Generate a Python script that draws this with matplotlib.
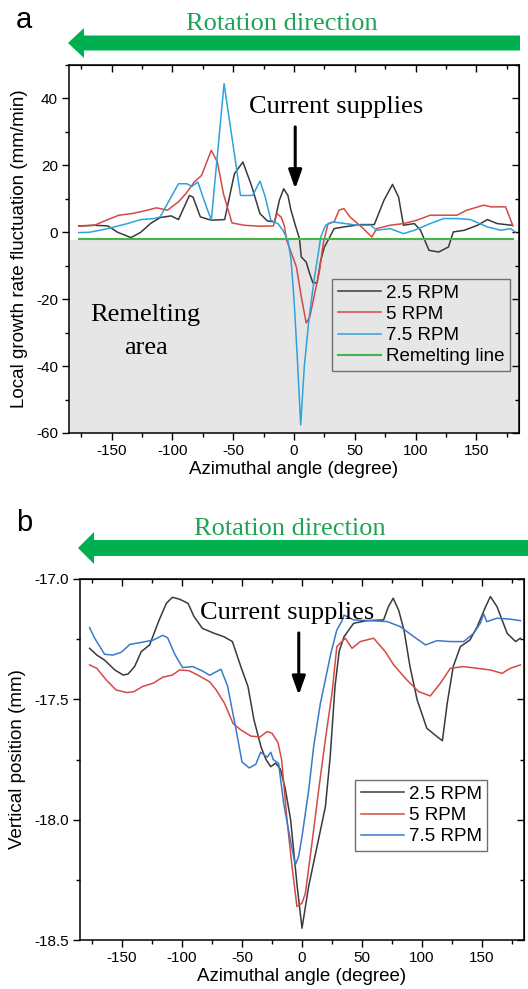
import numpy as np
import matplotlib
matplotlib.use("Agg")
import matplotlib.pyplot as plt
from matplotlib.patches import FancyArrow
from matplotlib.ticker import MultipleLocator, NullFormatter, FormatStrFormatter

plt.rcParams["font.family"] = ["Liberation Sans", "DejaVu Sans"]
plt.rcParams["axes.unicode_minus"] = False
SERIF = ["Liberation Serif", "DejaVu Serif"]

# ---- panel a: local growth rate fluctuation (mm/min) ----
ang_a_25 = [-177, -164, -153, -145, -134, -126, -118, -110, -101, -95,
            -86, -83, -77, -68, -57, -49, -42, -35, -28, -22,
            -16, -12, -8.5, -5, -2.5, 1.5, 4.5, 6, 10, 12.5,
            15.5, 19, 22, 25, 28, 33, 41, 55, 66, 74,
            81, 86, 90, 99, 104, 111, 119, 127, 131, 140,
            151, 159, 167, 179]
val_a_25 = [1.9, 2.1, 1.9, 0, -1.6, 0, 2.6, 4.4, 4.9, 3.8,
            11, 10.5, 4.6, 3.6, 3.8, 17.5, 21, 14, 5.6, 3.4,
            3.1, 9.6, 13, 11, 6.6, 1.6, -1.9, -7.4, -8.9, -11.9,
            -15.1, -15.1, -8.4, -4.4, -2.4, 1.1, 1.6, 2.3, 2.3, 9.6,
            14.3, 10.5, 2.1, 2.6, 0.6, -5.4, -5.9, -4.4, 0.1, 0.6,
            2.1, 3.8, 2.6, 2.1]

ang_a_5 = [-177, -164, -153, -144, -133, -123, -113, -104, -95, -89,
           -82, -76, -68, -63, -58, -51, -41, -28, -17, -14,
           -10.5, -8, -6, -1, 2, 6, 10, 13, 17, 21,
           24, 28, 33, 37, 41, 46, 57, 64, 68, 79,
           90, 101, 112, 123, 134, 142, 156, 162, 174, 180]
val_a_5 = [1.8, 2.1, 3.8, 5.1, 5.6, 6.4, 7.3, 6.6, 9.1, 11.5,
           15, 17, 24.5, 21, 11.5, 2.8, 2.1, 1.8, 1.9, 5.6,
           4.5, 2, -2.4, -7.4, -10.4, -19.3, -27.1, -25.3, -18.3, -11.4,
           -3.4, 2.6, 3.1, 6.6, 7.1, 4.6, 1.1, -1.4, 1.1, 2.1,
           2.6, 3.6, 5.1, 5.1, 5.1, 6.6, 8.1, 7.6, 7.6, 1.9]

ang_a_75 = [-177, -168, -153, -137, -126, -115, -110, -104, -95, -88,
            -84, -79, -74, -68, -57.5, -44, -34, -28, -24, -19,
            -13, -9, -5, -2.5, 0, 2.5, 5.5, 8.5, 12.5, 16.5,
            19.5, 22, 26, 32, 42, 52, 63, 68, 79, 90,
            99, 112, 123, 134, 145, 159, 170, 178, 182]
val_a_75 = [-0.1, 0, 1.1, 2.6, 3.8, 4.1, 4.6, 8.6, 14.5, 14.5,
            13.7, 15, 9.6, 3.6, 44.4, 11, 11, 15.3, 11, 3.6,
            2.5, 0.5, -2.5, -8, -20, -36, -57.6, -40, -25.3, -14.3,
            -7.4, -1.4, 2.1, 3.1, 2.6, 2.1, 2.1, 0.6, 1.1, -0.4,
            0.6, 2.6, 4.1, 4.1, 3.8, 1.6, 0.6, 1.1, 0.1]

remelt_ang = [-177, 180]
remelt_val = [-2, -2]

# ---- panel b: vertical position (mm) ----
ang_b_25 = [-177, -171, -164.5, -156, -149, -145, -139.5, -134, -127, -119,
            -113, -108, -102, -95, -90, -83, -73, -65, -58, -51,
            -45, -40, -34, -30, -26, -22, -18, -14, -9.5, -4,
            0, 5.5, 12.5, 19.5, 23.5, 27.5, 31, 35, 43, 54,
            68, 72, 76, 80.5, 85, 90, 96, 104, 112.5, 117,
            121, 126, 132, 140, 146, 153, 157, 162.5, 171, 178,
            182]
val_b_25 = [-17.288, -17.316, -17.337, -17.378, -17.399, -17.395, -17.364, -17.302, -17.274, -17.170,
            -17.101, -17.076, -17.084, -17.101, -17.156, -17.205, -17.226, -17.240, -17.260, -17.364,
            -17.447, -17.586, -17.70, -17.75, -17.78, -17.765, -17.79, -17.87, -18.0, -18.278,
            -18.451, -18.278, -18.112, -17.946, -17.738, -17.447, -17.30, -17.24, -17.184, -17.173,
            -17.170, -17.115, -17.080, -17.129, -17.212, -17.364, -17.503, -17.620, -17.655, -17.672,
            -17.517, -17.364, -17.281, -17.253, -17.198, -17.115, -17.073, -17.115, -17.226, -17.260,
            -17.246]

ang_b_5 = [-177, -171, -163, -155, -146, -140, -133, -124, -116, -108,
           -102, -94, -85.5, -77, -71.5, -64.5, -57.5, -51, -42.5, -35,
           -29, -25, -20, -17, -12.5, -8.3, -4.2, 0, 2.8, 8.3,
           13.9, 19.4, 25, 29, 36, 41.7, 48.6, 59.7, 69.4, 76.4,
           87.5, 97.2, 106.9, 115.3, 123.6, 134.7, 145.8, 156.9, 166.7, 173.6,
           182]
val_b_5 = [-17.357, -17.371, -17.420, -17.461, -17.472, -17.468, -17.447, -17.433, -17.408, -17.399,
           -17.378, -17.381, -17.403, -17.427, -17.461, -17.517, -17.600, -17.627, -17.653, -17.656,
           -17.634, -17.641, -17.68, -17.75, -18.001, -18.195, -18.361, -18.347, -18.306, -18.098,
           -17.877, -17.669, -17.475, -17.281, -17.246, -17.288, -17.260, -17.246, -17.302, -17.357,
           -17.420, -17.468, -17.486, -17.433, -17.371, -17.364, -17.371, -17.378, -17.392, -17.371,
           -17.357]

ang_b_75 = [-177, -173, -164.5, -157.5, -150.5, -143.5, -132.5, -124, -116, -112,
            -106, -99.5, -91, -83, -77, -67.5, -62, -55, -50, -44,
            -38.5, -34.5, -29, -26, -24, -19.5, -15.3, -9.7, -5.6, -2.8,
            0, 5.6, 9.7, 15.3, 19.4, 24, 29, 33, 35, 43,
            57, 71, 82, 93, 103, 112.5, 123.6, 134.7, 143, 148.6,
            151.4, 154, 162.5, 173.6, 182]
val_b_75 = [-17.202, -17.244, -17.313, -17.316, -17.304, -17.272, -17.262, -17.254, -17.234, -17.244,
            -17.313, -17.368, -17.364, -17.382, -17.400, -17.375, -17.445, -17.625, -17.760, -17.785,
            -17.770, -17.72, -17.74, -17.72, -17.75, -17.766, -17.932, -18.084, -18.188, -18.153,
            -18.070, -17.877, -17.697, -17.517, -17.420, -17.31, -17.212, -17.177, -17.150, -17.170,
            -17.173, -17.177, -17.198, -17.239, -17.274, -17.256, -17.260, -17.260, -17.226, -17.184,
            -17.145, -17.177, -17.163, -17.167, -17.173]

C25 = "#3a3a3a"
C5 = "#d44a45"
C75A = "#2ea2dc"
C75B = "#3b79c9"
CREM = "#45b649"
GREEN = "#00b050"
GREEN_TXT = "#1fa355"

W, H = 528, 989
fig = plt.figure(figsize=(W / 100, H / 100), dpi=100)

def px_rect(left, top, right, bottom):
    return [left / W, 1 - bottom / H, (right - left) / W, (bottom - top) / H]

def style(ax, xmaj, xmin, ymaj, ymin, yfmt=None):
    ax.xaxis.set_major_locator(MultipleLocator(xmaj))
    ax.xaxis.set_minor_locator(MultipleLocator(xmin))
    ax.yaxis.set_major_locator(MultipleLocator(ymaj))
    ax.yaxis.set_minor_locator(MultipleLocator(ymin))
    if yfmt:
        ax.yaxis.set_major_formatter(FormatStrFormatter(yfmt))
    ax.tick_params(which="both", direction="out", width=1, labelsize=11, pad=3)
    ax.tick_params(which="major", length=5)
    ax.tick_params(which="minor", length=3)
    for s in ax.spines.values():
        s.set_linewidth(1.1)
    # mirrored ticks pointing inward on top and right
    top = ax.secondary_xaxis("top")
    top.xaxis.set_major_locator(MultipleLocator(xmaj))
    top.xaxis.set_minor_locator(MultipleLocator(xmin))
    top.xaxis.set_major_formatter(NullFormatter())
    top.tick_params(which="both", direction="in", width=1)
    top.tick_params(which="major", length=5)
    top.tick_params(which="minor", length=3)
    right = ax.secondary_yaxis("right")
    right.yaxis.set_major_locator(MultipleLocator(ymaj))
    right.yaxis.set_minor_locator(MultipleLocator(ymin))
    right.yaxis.set_major_formatter(NullFormatter())
    right.tick_params(which="both", direction="in", width=1)
    right.tick_params(which="major", length=5)
    right.tick_params(which="minor", length=3)

# ---------------- panel a ----------------
ax1 = fig.add_axes(px_rect(69, 65, 519, 433))
ax1.axhspan(-60, -2.3, color="#e6e6e6", lw=0, zorder=0)
ax1.plot(ang_a_25, val_a_25, color=C25, lw=1.1, label="2.5 RPM")
ax1.plot(ang_a_5, val_a_5, color=C5, lw=1.1, label="5 RPM")
ax1.plot(ang_a_75, val_a_75, color=C75A, lw=1.1, label="7.5 RPM")
ax1.plot(remelt_ang, remelt_val, color=CREM, lw=1.5, label="Remelting line")
ax1.set_xlim(-185, 185)
ax1.set_ylim(-60, 50)
style(ax1, 50, 25, 20, 10)
ax1.set_xlabel("Azimuthal angle (degree)", fontsize=13.5, labelpad=2)
ax1.set_ylabel("Local growth rate fluctuation (mm/min)", fontsize=13.5, labelpad=6)

ax1.text(34.6, 35.6, "Current supplies", family=SERIF, fontsize=19,
         ha="center", va="baseline")
ax1.annotate("", xy=(1, 13), xytext=(1, 31.5),
             arrowprops=dict(arrowstyle="-|>,head_length=0.7,head_width=0.25",
                             color="black", lw=2.2, mutation_scale=16,
                             shrinkA=0, shrinkB=0))
ax1.text(-122, -26.5, "Remelting", family=SERIF, fontsize=19, ha="center", va="baseline")
ax1.text(-122, -36.4, "area", family=SERIF, fontsize=19, ha="center", va="baseline")

leg1 = ax1.legend(loc="upper right", bbox_to_anchor=(0.98, 0.4185), fontsize=13.5,
                  frameon=True, fancybox=False, framealpha=1, facecolor="none",
                  edgecolor="#707070", borderaxespad=0, handlelength=2.3,
                  handletextpad=0.25, labelspacing=0.22, borderpad=0.3)
leg1.get_frame().set_linewidth(1)

# ---------------- panel b ----------------
ax2 = fig.add_axes(px_rect(80, 579, 524, 940))
ax2.plot(ang_b_25, val_b_25, color=C25, lw=1.1, label="2.5 RPM")
ax2.plot(ang_b_5, val_b_5, color=C5, lw=1.1, label="5 RPM")
ax2.plot(ang_b_75, val_b_75, color=C75B, lw=1.1, label="7.5 RPM")
ax2.set_xlim(-185, 185)
ax2.set_ylim(-18.5, -17.0)
style(ax2, 50, 25, 0.5, 0.25, yfmt="%.1f")
ax2.set_xlabel("Azimuthal angle (degree)", fontsize=13.5, labelpad=2)
ax2.set_ylabel("Vertical position (mm)", fontsize=13.5, labelpad=6)

ax2.text(-12.8, -17.167, "Current supplies", family=SERIF, fontsize=19,
         ha="center", va="baseline")
ax2.annotate("", xy=(-2.7, -17.482), xytext=(-2.7, -17.224),
             arrowprops=dict(arrowstyle="-|>,head_length=0.7,head_width=0.25",
                             color="black", lw=2.2, mutation_scale=16,
                             shrinkA=0, shrinkB=0))

leg2 = ax2.legend(loc="upper right", bbox_to_anchor=(0.917, 0.443), fontsize=13.5,
                  frameon=True, fancybox=False, framealpha=1, facecolor="white",
                  edgecolor="#707070", borderaxespad=0, handlelength=2.3,
                  handletextpad=0.25, labelspacing=0.22, borderpad=0.3)
leg2.get_frame().set_linewidth(1)

# ---------------- rotation arrows, panel letters ----------------
def rotation_arrow(tip_x, tail_x, y, shaft, head_w, head_l):
    fig.add_artist(FancyArrow(tail_x / W, 1 - y / H, (tip_x - tail_x) / W, 0,
                              width=shaft / H, head_width=head_w / H,
                              head_length=head_l / W, length_includes_head=True,
                              transform=fig.transFigure, color=GREEN, lw=0))

rotation_arrow(68, 520, 43, 15, 30, 16)
fig.text(282 / W, 1 - 30 / H, "Rotation direction", family=SERIF, fontsize=19,
         color=GREEN_TXT, ha="center", va="baseline")
fig.text(24 / W, 1 - 28 / H, "a", fontsize=21, ha="center", va="baseline")

rotation_arrow(78, 528, 548, 16, 32, 16)
fig.text(290 / W, 1 - 535 / H, "Rotation direction", family=SERIF, fontsize=19,
         color=GREEN_TXT, ha="center", va="baseline")
fig.text(24 / W, 1 - 531 / H, "b", fontsize=21, ha="center", va="baseline")

fig.savefig("out.png", dpi=100)
